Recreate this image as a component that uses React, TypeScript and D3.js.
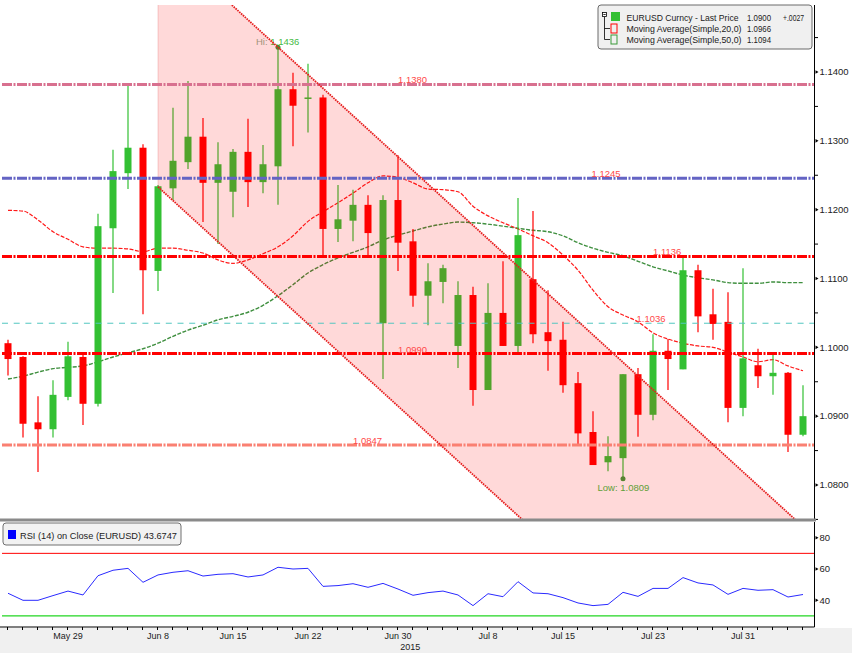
import React from "react";
import * as d3 from "d3";

// ---------- data (EURUSD daily) ----------
const opens = [1.1006,1.0986,1.0891,1.0881,1.0928,1.0986,1.0918,1.1173,1.1253,1.1290,1.1111,1.1231,1.1269,1.1306,1.1239,1.1226,1.1284,1.1240,1.1263,1.1375,1.1362,1.1363,1.1172,1.1184,1.1207,1.1035,1.1214,1.1154,1.1075,1.1095,1.1002,1.1076,1.0938,1.1050,1.1002,1.1099,1.1022,1.1011,1.0948,1.0877,1.0833,1.0839,1.0961,1.0902,1.0995,1.0968,1.1112,1.1048,1.1037,1.0912,1.0974,1.0958,1.0963,1.0873];
const highs = [1.1011,1.0987,1.0929,1.0952,1.1008,1.0990,1.1194,1.1287,1.1381,1.1295,1.1236,1.1348,1.1387,1.1333,1.1298,1.1288,1.1332,1.1294,1.1436,1.1399,1.1412,1.1367,1.1236,1.1229,1.1221,1.1221,1.1279,1.1172,1.1122,1.1120,1.1096,1.1088,1.1093,1.1125,1.1217,1.1198,1.1083,1.1037,1.0964,1.0907,1.0871,1.0961,1.0970,1.1019,1.1012,1.1130,1.1120,1.1085,1.1080,1.1115,1.0998,1.0989,1.0964,1.0945];
const lows = [1.0959,1.0869,1.0819,1.0869,1.0923,1.0887,1.0914,1.1079,1.1230,1.1048,1.1082,1.1214,1.1259,1.1182,1.1150,1.1189,1.1204,1.1224,1.1207,1.1292,1.1312,1.1133,1.1153,1.1154,1.1133,1.0954,1.1111,1.1059,1.1032,1.1064,1.0970,1.0915,1.0938,1.1002,1.0993,1.1006,1.0966,1.0934,1.0859,1.0829,1.0820,1.0809,1.0870,1.0894,1.0938,1.0968,1.1022,1.1011,1.0891,1.0900,1.0941,1.0931,1.0848,1.0871];
const closes = [1.0983,1.0889,1.0881,1.0931,1.0987,1.0918,1.1176,1.1256,1.1290,1.1112,1.1234,1.1271,1.1306,1.1239,1.1266,1.1284,1.1240,1.1266,1.1375,1.1351,1.1363,1.1172,1.1186,1.1207,1.1166,1.1214,1.1152,1.1075,1.1096,1.1115,1.1076,1.0938,1.1050,1.1002,1.1163,1.1019,1.1009,1.0945,1.0875,1.0829,1.0842,1.0961,1.0902,1.0995,1.0983,1.1112,1.1045,1.1034,1.0912,1.0984,1.0958,1.0963,1.0873,1.0900];
const ma20 = [1.1199,1.1198,1.1185,1.1168,1.1157,1.1146,1.1144,1.1144,1.1143,1.1139,1.1144,1.1144,1.1141,1.1137,1.1127,1.1122,1.1127,1.1136,1.1146,1.1162,1.1183,1.1197,1.1210,1.1224,1.1239,1.1249,1.1247,1.1239,1.1230,1.1229,1.1226,1.1205,1.1191,1.1181,1.1172,1.1162,1.1152,1.1134,1.1112,1.1083,1.1059,1.1047,1.1037,1.1021,1.1012,1.1006,1.1002,1.1000,1.0993,1.0986,1.0979,1.0982,1.0973,1.0966];
const ma50 = [1.0954,1.0958,1.0964,1.0969,1.0971,1.0973,1.0979,1.0986,1.0992,1.0998,1.1006,1.1016,1.1025,1.1032,1.1040,1.1045,1.1051,1.1061,1.1075,1.1091,1.1108,1.1120,1.1130,1.1138,1.1146,1.1156,1.1163,1.1169,1.1175,1.1179,1.1182,1.1181,1.1179,1.1176,1.1173,1.1170,1.1168,1.1162,1.1152,1.1144,1.1138,1.1133,1.1125,1.1117,1.1111,1.1105,1.1101,1.1098,1.1094,1.1093,1.1093,1.1095,1.1094,1.1094];
const rsi = [44.5,40.0,40.0,43.0,45.9,43.4,55.7,59.2,60.4,51.5,56.2,57.9,58.9,55.5,56.6,57.0,54.9,56.2,61.1,60.0,60.4,48.9,49.4,50.6,48.3,50.8,47.2,43.2,44.9,45.9,43.4,36.6,44.2,42.3,51.9,44.7,44.2,41.7,38.3,36.6,37.4,45.1,42.5,47.6,47.6,54.5,51.1,49.8,43.8,47.6,46.4,46.8,42.1,43.7];

const priceTicks = [1.08, 1.09, 1.10, 1.11, 1.12, 1.13, 1.14];
const priceMinorTicks = [1.075, 1.085, 1.095, 1.105, 1.115, 1.125, 1.135, 1.145];
const rsiTicks = [40, 60, 80];
const rsiBands = [70, 30];
const dateLabels = ["May 29", "Jun 8", "Jun 15", "Jun 22", "Jun 30", "Jul 8", "Jul 15", "Jul 23", "Jul 31"];
const yearLabel = "2015";

const levelValues = [1.1382, 1.12455, 1.1132, 1.1035, 1.0991, 1.0858];
const levelLabels = ["1.1380", "1.1245", "1.1136", "1.1036", "1.0990", "1.0847"];

// channel (drawn trend channel): anchored at bar 10 (low side) and bar 18 (high)
const channelStartBar = 10;
const channelLowAnchor = 1.1233;
const channelHighBar = 18;
const channelHighAnchor = 1.1436;
const channelSlope = -0.00199; // price per bar

const hiValue = 1.1436, hiBar = 18;
const loValue = 1.0809, loBar = 41;

const legendRows = [
  { name: "EURUSD Curncy - Last Price", value: "1.0900", chg: "+.0027" },
  { name: "Moving Average(Simple,20,0)", value: "1.0966", chg: "" },
  { name: "Moving Average(Simple,50,0)", value: "1.1094", chg: "" },
];
const rsiLegend = "RSI (14) on Close (EURUSD) 43.6747";

// ---------- styles ----------
const levelStyles = [
  { color: "#d8708f", w: 3, dash: "10,1.5,2,1.5" },
  { color: "#6464c4", w: 3, dash: "10,1.5,2,1.5" },
  { color: "#ff0000", w: 3, dash: "10,1.5,2,1.5" },
  { color: "#52c6c0", w: 1, dash: "6,5.7" },
  { color: "#ff0000", w: 3, dash: "10,1.5,2,1.5" },
  { color: "#fa8072", w: 3, dash: "10,1.5,2,1.5" },
];
const levelLabelBar = [26, 38.9, 43, 41.9, 26, 23];

const FONT = "'Liberation Sans', Arial, sans-serif";
const UP = "#33c033";
const DOWN = "#ff0000";

export default function App() {
  const W = 852, H = 653;
  const n = closes.length;
  const plot = { l: 2, r: 814.5, t: 5, b: 519 };
  const rp = { t: 522, b: 627 };

  const x = d3.scaleLinear().domain([0, n - 1]).range([8, 803]);
  const y = d3.scaleLinear().domain([1.08, 1.14]).range([485, 72]);
  const yR = d3.scaleLinear().domain([40, 80]).range([600.3, 537.7]);

  const days = d3.timeDay
    .range(new Date(2015, 4, 25), new Date(2015, 7, 7))
    .filter((d) => d.getDay() !== 0 && d.getDay() !== 6);
  const fmt = d3.timeFormat("%b %-d");
  const dateTicks = days
    .map((d, i) => ({ i, label: fmt(d) }))
    .filter((t) => dateLabels.includes(t.label));

  const idx = d3.range(n);
  const maLine = (arr: number[]) =>
    d3.line<number>().x((i) => x(i)).y((i) => y(arr[i])).curve(d3.curveMonotoneX)(idx) || "";
  const rsiPath =
    d3.line<number>().x((i) => x(i)).y((i) => yR(rsi[i]))(idx) || "";

  const upper = (i: number) => channelHighAnchor + channelSlope * (i - channelHighBar);
  const lower = (i: number) => channelLowAnchor + channelSlope * (i - channelStartBar);
  const farBar = 70;
  const channelPoly = [
    [x(channelStartBar), y(upper(channelStartBar))],
    [x(farBar), y(upper(farBar))],
    [x(farBar), y(lower(farBar))],
    [x(channelStartBar), y(lower(channelStartBar))],
  ]
    .map((p) => p.join(","))
    .join(" ");

  const bodyW = 7;

  return (
    <svg
      width={W}
      height={H}
      style={{ position: "absolute", left: 0, top: 0, background: "#fff" }}
      fontFamily={FONT}
    >
      <defs>
        <clipPath id="mainClip">
          <rect x={plot.l} y={plot.t} width={plot.r - plot.l} height={plot.b - plot.t} />
        </clipPath>
        <clipPath id="rsiClip">
          <rect x={plot.l} y={rp.t} width={plot.r - plot.l} height={rp.b - rp.t} />
        </clipPath>
      </defs>
      <rect x={0} y={0} width={W} height={H} fill="#fff" />

      <g clipPath="url(#mainClip)">
        {/* moving averages */}
        <path d={maLine(ma50)} fill="none" stroke="#3f8f3f" strokeWidth={1.4} strokeDasharray="4,1.5" />
        <path d={maLine(ma20)} fill="none" stroke="#ff1a1a" strokeWidth={1.2} strokeDasharray="4,1.5" />

        {/* candles */}
        {idx.map((i) => {
          const o = opens[i], c = closes[i];
          const col = c >= o ? UP : DOWN;
          const top = y(Math.max(o, c));
          const bot = y(Math.min(o, c));
          const h = Math.max(1.5, bot - top);
          return (
            <g key={i}>
              <line x1={x(i)} x2={x(i)} y1={y(highs[i])} y2={y(lows[i])} stroke={col} strokeWidth={1.2} />
              <rect x={x(i) - bodyW / 2} y={top} width={bodyW} height={h} fill={col} />
            </g>
          );
        })}

        {/* Hi / Low annotations */}
        <circle cx={x(hiBar)} cy={y(hiValue)} r={2.5} fill="#3a9a3a" />
        <text x={x(hiBar) - 22} y={y(hiValue) - 2.5} fontSize={9.5} fill="#44bb44">
          <tspan fill="#8fae8f">Hi: </tspan>
          {hiValue.toFixed(4)}
        </text>
        <circle cx={x(loBar)} cy={y(loValue)} r={2.5} fill="#3a9a3a" />
        <text x={x(loBar) - 25.5} y={y(loValue) + 12} fontSize={9.5} fill="#44bb44">
          Low: {loValue.toFixed(4)}
        </text>

        {/* channel fill overlay */}
        <polygon points={channelPoly} fill="rgba(255,0,0,0.15)" />
        <line
          x1={x(channelStartBar)}
          x2={x(channelStartBar)}
          y1={y(upper(channelStartBar))}
          y2={y(lower(channelStartBar))}
          stroke="rgba(220,80,80,0.25)"
          strokeWidth={1}
        />

        {/* horizontal levels */}
        {levelValues.map((v, k) => (
          <line
            key={k}
            x1={plot.l}
            x2={plot.r}
            y1={y(v)}
            y2={y(v)}
            stroke={levelStyles[k].color}
            strokeWidth={levelStyles[k].w}
            strokeDasharray={levelStyles[k].dash}
          />
        ))}

        {/* channel lines */}
        <line
          x1={x(channelStartBar)}
          y1={y(upper(channelStartBar))}
          x2={x(farBar)}
          y2={y(upper(farBar))}
          stroke="#e61e1e"
          strokeWidth={1.8}
          strokeDasharray="1.6,0.9"
        />
        <line
          x1={x(channelStartBar)}
          y1={y(lower(channelStartBar))}
          x2={x(farBar)}
          y2={y(lower(farBar))}
          stroke="#e61e1e"
          strokeWidth={1.8}
          strokeDasharray="1.6,0.9"
        />

        {/* level labels */}
        {levelValues.map((v, k) => (
          <text key={k} x={x(levelLabelBar[k])} y={y(v) - 1} fontSize={9.5} fill="#ff4a4a">
            {levelLabels[k]}
          </text>
        ))}
      </g>

      {/* price axis */}
      <line x1={plot.r} x2={plot.r} y1={plot.t} y2={plot.b} stroke="#000" strokeWidth={1} />
      {priceMinorTicks.map((t) => (
        <line key={t} x1={plot.r} x2={plot.r + 3.5} y1={y(t)} y2={y(t)} stroke="#000" strokeWidth={1} />
      ))}
      {priceTicks.map((t) => (
        <g key={t}>
          <path d={`M${plot.r + 1},${y(t) - 1.8} L${plot.r + 4},${y(t)} L${plot.r + 1},${y(t) + 1.8} Z`} fill="#000" />
          <text x={plot.r + 5} y={y(t)} dy="0.35em" fontSize={9.5} fill="#222">
            {t.toFixed(4)}
          </text>
        </g>
      ))}

      {/* legend */}
      <g>
        <rect x={598} y={5} width={214} height={44} rx={3} fill="#f0f0f0" stroke="#6a6a6a" strokeWidth={1} />
        <rect x={602.5} y={12.5} width={4} height={4} fill="#fff" stroke="#000" strokeWidth={0.8} />
        <line x1={603.3} x2={605.7} y1={14.5} y2={14.5} stroke="#000" strokeWidth={0.8} />
        <path d="M604.5,17 V39.5 H610 M604.5,28.5 H610" fill="none" stroke="#000" strokeWidth={0.8} />
        <rect x={611} y={12} width={9} height={9} fill={UP} />
        <rect x={611} y={24} width={6} height={9} fill="none" stroke="#ff0000" strokeWidth={1} />
        <rect x={611} y={35} width={6} height={9} fill="none" stroke="#3a9a3a" strokeWidth={1} />
        {legendRows.map((r, k) => (
          <g key={k} fontSize={8.8} fill="#222">
            <text x={626.5} y={20.5 + k * 11.3} textLength={k === 0 ? 112 : 115} lengthAdjust="spacingAndGlyphs">
              {r.name}
            </text>
            <text x={747} y={20.5 + k * 11.3} textLength={24} lengthAdjust="spacingAndGlyphs">
              {r.value}
            </text>
            {r.chg && (
              <text x={783} y={20.5 + k * 11.3} textLength={21} lengthAdjust="spacingAndGlyphs">
                {r.chg}
              </text>
            )}
          </g>
        ))}
      </g>

      {/* panel separator */}
      <rect x={0} y={518.5} width={816} height={3} fill="#8a8a8a" />

      {/* RSI panel */}
      <g clipPath="url(#rsiClip)">
        <line x1={plot.l} x2={plot.r} y1={yR(rsiBands[0])} y2={yR(rsiBands[0])} stroke="#ff0000" strokeWidth={1} />
        <line x1={plot.l} x2={plot.r} y1={yR(rsiBands[1])} y2={yR(rsiBands[1])} stroke="#22d622" strokeWidth={1.2} />
        <path d={rsiPath} fill="none" stroke="#2a2aff" strokeWidth={1} />
      </g>
      <rect x={3} y={523} width={178} height={22} rx={3} fill="#f2f2f2" stroke="#707070" strokeWidth={1} />
      <rect x={8} y={530} width={8} height={9} fill="#0000ff" />
      <text x={20} y={538.5} fontSize={8.8} fill="#222" textLength={157} lengthAdjust="spacingAndGlyphs">
        {rsiLegend}
      </text>

      <line x1={plot.r} x2={plot.r} y1={rp.t} y2={rp.b} stroke="#000" strokeWidth={1} />
      {rsiTicks.map((t) => (
        <g key={t}>
          <path d={`M${plot.r + 1},${yR(t) - 1.8} L${plot.r + 4},${yR(t)} L${plot.r + 1},${yR(t) + 1.8} Z`} fill="#000" />
          <text x={plot.r + 5} y={yR(t)} dy="0.35em" fontSize={9.5} fill="#222">
            {t}
          </text>
        </g>
      ))}

      {/* date axis */}
      <rect x={0} y={628} width={W} height={H - 628} fill="#f0f0f0" />
      <line x1={0} x2={plot.r} y1={rp.b} y2={rp.b} stroke="#000" strokeWidth={1} />
      {idx.map((i) => (
        <line key={i} x1={x(i) - 0.5} x2={x(i) - 0.5} y1={rp.b} y2={rp.b + 3} stroke="#000" strokeWidth={1} />
      ))}
      {dateTicks.map((t) => (
        <text key={t.label} x={x(t.i)} y={639} textAnchor="middle" fontSize={9} fill="#222">
          {t.label}
        </text>
      ))}
      <text x={(plot.l + plot.r) / 2 + 2} y={649.5} textAnchor="middle" fontSize={9} fill="#222">
        {yearLabel}
      </text>
    </svg>
  );
}
